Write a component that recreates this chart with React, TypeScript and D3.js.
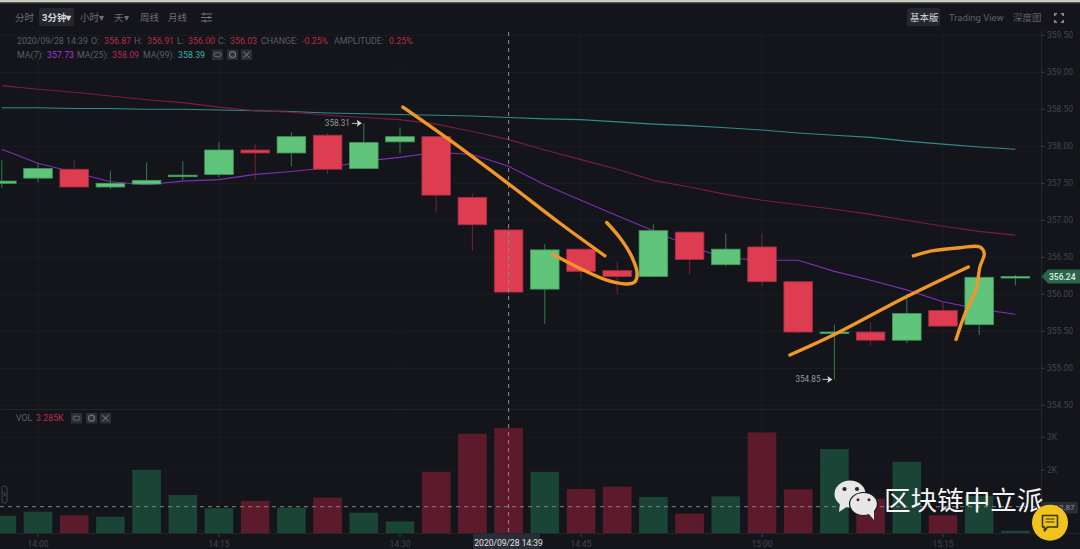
import React from "react";
import * as d3 from "d3";

const opens = [357.50, 357.57, 357.69, 357.45, 357.49, 357.59, 357.62, 357.95, 357.91, 358.15, 357.70, 358.06, 358.13, 357.31, 356.87, 356.07, 356.61, 356.32, 356.24, 356.84, 356.40, 356.64, 356.17, 355.47, 355.49, 355.38, 355.78, 355.59, 356.22];
const highs = [357.81, 357.77, 357.81, 357.67, 357.78, 357.80, 358.06, 358.03, 358.19, 358.18, 358.31, 358.25, 358.14, 357.36, 356.91, 356.68, 356.62, 356.44, 356.95, 356.85, 356.82, 356.82, 356.17, 355.59, 355.62, 356.00, 355.91, 356.24, 356.26];
const lows = [357.44, 357.51, 357.45, 357.42, 357.49, 357.54, 357.58, 357.55, 357.73, 357.63, 357.70, 357.91, 357.10, 356.59, 356.00, 355.60, 356.21, 356.00, 356.23, 356.27, 356.38, 356.11, 355.47, 354.85, 355.31, 355.34, 355.56, 355.45, 356.12];
const closes = [357.53, 357.70, 357.45, 357.50, 357.54, 357.61, 357.95, 357.91, 358.13, 357.69, 358.05, 358.13, 357.34, 356.94, 356.03, 356.60, 356.31, 356.24, 356.86, 356.47, 356.61, 356.17, 355.49, 355.49, 355.38, 355.74, 355.57, 356.23, 356.24];
const volumes = [0.60, 0.725, 0.615, 0.57, 2.0, 1.235, 0.83, 1.05, 0.85, 1.155, 0.695, 0.43, 1.94, 3.11, 3.285, 1.94, 1.42, 1.49, 1.175, 0.665, 1.195, 3.15, 1.41, 2.64, 1.12, 2.25, 0.615, 1.21, 0.145];
const ma7 = [357.96, 357.77, 357.65, 357.52, 357.48, 357.53, 357.55, 357.62, 357.66, 357.71, 357.80, 357.85, 357.92, 357.89, 357.73, 357.48, 357.27, 357.06, 356.86, 356.65, 356.49, 356.46, 356.46, 356.31, 356.19, 356.06, 355.90, 355.80, 355.73];
const ma25 = [358.82, 358.77, 358.73, 358.68, 358.63, 358.59, 358.53, 358.48, 358.46, 358.42, 358.39, 358.36, 358.30, 358.20, 358.09, 357.95, 357.82, 357.69, 357.54, 357.45, 357.35, 357.27, 357.21, 357.15, 357.08, 357.00, 356.92, 356.85, 356.80];
const ma99 = [358.52, 358.52, 358.51, 358.51, 358.50, 358.50, 358.49, 358.48, 358.47, 358.45, 358.44, 358.43, 358.42, 358.41, 358.39, 358.37, 358.36, 358.33, 358.30, 358.28, 358.25, 358.22, 358.18, 358.15, 358.12, 358.07, 358.03, 357.99, 357.96];

const priceTicks = [359.5, 359, 358.5, 358, 357.5, 357, 356.5, 356, 355.5, 355, 354.5];
const volTicks = [3, 2];
const timeTickIdx = [1, 6, 11, 16, 21, 26];
const timeTickLabels = ["14:00", "14:15", "14:30", "14:45", "15:00", "15:15"];
const volAvg = 0.878;
const hoverIdx = 14;
const lastPrice = 356.24;

// hand drawn orange strokes: [candle index, price]
const strokeDown: [number, number][] = [[11.08, 358.53], [12.33, 358.10], [13.98, 357.50], [15.42, 356.96], [16.66, 356.52]];
const strokeHook: [number, number][] = [[15.22, 356.54], [15.97, 356.35], [16.71, 356.19], [17.26, 356.14], [17.49, 356.17], [17.55, 356.28], [17.40, 356.51], [17.08, 356.76], [16.71, 356.97]];
const strokeUp: [number, number][] = [[21.77, 355.18], [22.97, 355.45], [25.0, 355.97], [26.70, 356.37]];
const strokeTurn: [number, number][] = [[26.36, 355.39], [26.61, 355.74], [26.91, 356.06], [27.02, 356.37], [27.14, 356.55], [27.02, 356.64], [26.47, 356.63], [25.73, 356.59], [25.18, 356.52]];

const periodTabs: [string, number, string, number][] = [["分时", 15, "#6c6f76", 400], ["3分钟▾", 42, "#d5d7da", 700], ["小时▾", 80, "#6c6f76", 400], ["天▾", 114, "#6c6f76", 400], ["周线", 140, "#6c6f76", 400], ["月线", 168, "#6c6f76", 400]];
const legend1: [string, number, string][] = [["2020/09/28 14:39", 17, "#5a5d65"], ["O:", 91, "#5a5d65"], ["356.87", 104, "#b92c44"], ["H:", 134, "#5a5d65"], ["356.91", 147, "#b92c44"], ["L:", 177, "#5a5d65"], ["356.00", 188, "#b92c44"], ["C:", 218, "#5a5d65"], ["356.03", 230, "#b92c44"], ["CHANGE:", 261, "#5a5d65"], ["-0.25%", 302, "#b92c44"], ["AMPLITUDE:", 334, "#5a5d65"], ["0.25%", 389, "#b92c44"]];
const legend2: [string, number, string][] = [["MA(7):", 17, "#5a5d65"], ["357.73", 47, "#a435d8"], ["MA(25):", 77, "#5a5d65"], ["358.09", 112, "#b42a55"], ["MA(99):", 143, "#5a5d65"], ["358.39", 178, "#35b3ac"]];

const BG = "#14151a";
const GRID = "#1b1d23";
const AXIS = "#24262d";
const AXIS_TEXT = "#41444c";
const UI_FONT = "Roboto, 'Noto Sans CJK SC', sans-serif";

const x = d3.scaleLinear([0, 28], [1.8, 1015.4]);
const y = d3.scaleLinear([359.5, 354.5], [35.3, 405.3]);
const yVol = d3.scaleLinear([0, 3], [535.4, 437.3]);

const maLine = d3.line<number>().x((d, i) => x(i)).y((d) => y(d));
const strokeLine = d3.line<[number, number]>().x((d) => x(d[0])).y((d) => y(d[1])).curve(d3.curveCatmullRom);

function PaneButtons(props: { xs: number[], top: number }) {
    return <g>
        {props.xs.map((bx, i) => (
            <g key={i}>
                <rect x={bx} y={props.top} width={11} height={10.5} fill="#2c2f37" />
                {i === 0 && <ellipse cx={bx + 5.5} cy={props.top + 5.2} rx={3.6} ry={2.2} fill="none" stroke="#6e727b" strokeWidth={0.9} />}
                {i === 1 && <circle cx={bx + 5.5} cy={props.top + 5.2} r={3} fill="none" stroke="#6e727b" strokeWidth={1.2} />}
                {i === 2 && <path d={`M${bx + 2.5},${props.top + 2.2}L${bx + 8.5},${props.top + 8.2}M${bx + 8.5},${props.top + 2.2}L${bx + 2.5},${props.top + 8.2}`} stroke="#7b7f88" strokeWidth={1} />}
            </g>
        ))}
    </g>;
}

function ExtremeMarker(props: { idx: number, value: number }) {
    const px = x(props.idx);
    const py = y(props.value);
    return <g>
        <text x={px - 39} y={py + 3} fontSize={8.2} fill="#94979d" fontFamily={UI_FONT}>{props.value.toFixed(2)}</text>
        <path d={`M${px - 12},${py}H${px - 4}`} stroke="#c9cbcf" strokeWidth={0.9} />
        <path d={`M${px - 7},${py - 3.5}L${px - 2},${py}L${px - 7},${py + 3.5}L${px - 6},${py}Z`} fill="#d5d7da" />
    </g>;
}

export default function App() {
    const barW = 28.6;
    return <svg width={1080} height={549} viewBox="0 0 1080 549" style={{ position: "absolute", left: 0, top: 0, display: "block" }}>
        <rect x={0} y={0} width={1080} height={549} fill={BG} />
        <rect x={0} y={0} width={1080} height={2.5} fill="#c9cdb9" />
        <rect x={0} y={2.5} width={1080} height={1} fill="#3a3c40" />

        {/* Grid */}
        <g stroke={GRID}>
            {priceTicks.map((t) => <line key={t} x1={0} x2={1041} y1={y(t)} y2={y(t)} />)}
            {volTicks.map((t) => <line key={t} x1={0} x2={1041} y1={yVol(t)} y2={yVol(t)} />)}
            {timeTickIdx.map((t) => <line key={t} x1={x(t)} x2={x(t)} y1={30} y2={533} />)}
        </g>
        <line x1={0} x2={1041} y1={409.5} y2={409.5} stroke={AXIS} />
        <line x1={0} x2={1080} y1={533.5} y2={533.5} stroke={AXIS} />
        <line x1={1041.5} x2={1041.5} y1={30} y2={533} stroke={AXIS} />

        {/* Volume */}
        {volumes.map((v, i) => (
            <rect key={i} x={x(i) - barW / 2} y={yVol(v)} width={barW} height={533 - yVol(v)}
                fill={closes[i] >= opens[i] ? "#1a4435" : "#5d1a2b"} />
        ))}
        <line x1={0} x2={1041} y1={yVol(volAvg)} y2={yVol(volAvg)} stroke="#7f8388" strokeDasharray="4 4" />

        {/* Moving averages sit under the candles */}
        <path d={maLine(ma99)!} fill="none" stroke="#2e8c8c" strokeWidth={1.1} />
        <path d={maLine(ma25)!} fill="none" stroke="#7a1c42" strokeWidth={1.1} />
        <path d={maLine(ma7)!} fill="none" stroke="#7c2fb8" strokeWidth={1.1} />

        {/* Candles */}
        {closes.map((c, i) => {
            const up = c >= opens[i];
            const top = y(Math.max(c, opens[i]));
            const bottom = y(Math.min(c, opens[i]));
            return <g key={i}>
                <line x1={x(i)} x2={x(i)} y1={y(highs[i])} y2={y(lows[i])} stroke={up ? "#2f7d4e" : "#7a1f39"} strokeWidth={1} />
                <rect x={x(i) - barW / 2} y={top} width={barW} height={Math.max(bottom - top, 1.5)}
                    fill={up ? "#60c57a" : "#de3c50"} stroke={up ? "#3f9a5c" : "#a62c42"} strokeWidth={0.8} />
            </g>;
        })}

        <ExtremeMarker idx={10} value={highs[10]} />
        <ExtremeMarker idx={23} value={lows[23]} />

        {/* Crosshair */}
        <line x1={x(hoverIdx)} x2={x(hoverIdx)} y1={32} y2={533} stroke="#8b8e95" strokeDasharray="4 4" />

        {/* Orange annotations */}
        <g fill="none" stroke="#f0972a" strokeWidth={3.4} strokeLinecap="round" strokeLinejoin="round">
            <path d={strokeLine(strokeDown)!} />
            <path d={strokeLine(strokeHook)!} />
            <path d={strokeLine(strokeUp)!} />
            <path d={strokeLine(strokeTurn)!} />
        </g>

        {/* Axis labels */}
        <g fontFamily={UI_FONT} fontSize={8.5} fill={AXIS_TEXT}>
            {priceTicks.map((t) => (
                <g key={t}>
                    <line x1={1041.5} x2={1044.5} y1={y(t)} y2={y(t)} stroke="#3c3f47" />
                    <text x={1047} y={y(t) + 3}>{t.toFixed(2)}</text>
                </g>
            ))}
            {volTicks.map((t) => (
                <g key={t}>
                    <line x1={1041.5} x2={1044.5} y1={yVol(t)} y2={yVol(t)} stroke="#3c3f47" />
                    <text x={1047} y={yVol(t) + 3}>{t}K</text>
                </g>
            ))}
            {timeTickIdx.map((t, i) => (
                <g key={t}>
                    <line x1={x(t)} x2={x(t)} y1={534} y2={537} stroke="#3c3f47" />
                    <text x={x(t)} y={547} textAnchor="middle">{timeTickLabels[i]}</text>
                </g>
            ))}
        </g>
        <rect x={473} y={534} width={67} height={15} fill="#2a2d35" />
        <text x={x(hoverIdx)} y={546} textAnchor="middle" fontFamily={UI_FONT} fontSize={8.5} fill="#e3e4e6">2020/09/28 14:39</text>

        {/* Last price tag */}
        <path d={`M1041.5,${y(lastPrice)}L1048,${y(lastPrice) - 7}H1080V${y(lastPrice) + 7}H1048Z`} fill="#2b6549" />
        <text x={1049} y={y(lastPrice) + 3.2} fontFamily={UI_FONT} fontSize={8.5} fontWeight={500} fill="#dfeee5">{lastPrice.toFixed(2)}</text>

        <rect x={1041} y={502} width={37} height={11.5} rx={1} fill="#2a2d35" />
        <text x={1050} y={510} fontFamily={UI_FONT} fontSize={8} fill="#8d9097">912.87</text>

        {/* Toolbar */}
        <rect x={39} y={8} width={35} height={18} rx={1.5} fill="#24272e" />
        <g fontFamily={UI_FONT} fontSize={9.5}>
            {periodTabs.map(([label, tx, color, weight]) => <text key={label} x={tx} y={20.5} fill={color} fontWeight={weight}>{label}</text>)}
        </g>
        <path d="M201,14H212M201,17.5H212M201,21H212" stroke="#73767d" strokeWidth={1} />
        <path d="M204,12.5V15.5M209,16V19M205,19.5V22.5" stroke="#73767d" strokeWidth={1} />
        <rect x={907} y={8} width={33} height={18} rx={1.5} fill="#24272e" />
        <g fontFamily={UI_FONT} fontSize={9.5}>
            <text x={910} y={20.5} fill="#d5d7da">基本版</text>
            <text x={949} y={20.5} fill="#5f6269">Trading View</text>
            <text x={1013} y={20.5} fill="#5f6269">深度图</text>
        </g>
        <path d="M1054,13h3v1.5h-1.5V16h-1.5ZM1064,13h-3v1.5h1.5V16h1.5ZM1054,23h3v-1.5h-1.5V20h-1.5ZM1064,23h-3v-1.5h1.5V20h1.5Z" fill="#8b8e95" />

        {/* Legends */}
        <g fontFamily={UI_FONT} fontSize={8.8}>
            {legend1.map(([label, tx, color]) => <text key={label} x={tx} y={44.3} fill={color}>{label}</text>)}
            {legend2.map(([label, tx, color]) => <text key={label} x={tx} y={57.8} fill={color}>{label}</text>)}
            <text x={16} y={421.3} fill="#5a5d65">VOL</text>
            <text x={36} y={421.3} fill="#b92c44">3.285K</text>
        </g>
        <PaneButtons xs={[212, 227, 241]} top={49.5} />
        <PaneButtons xs={[71, 86, 100]} top={413} />

        {/* Collapse handle */}
        <rect x={2} y={486} width={5} height={17} rx={2} fill={BG} stroke="#3f424a" />
        <path d="M3.5,492.5L5.5,494.5L3.5,496.5" fill="none" stroke="#6e727b" strokeWidth={0.8} />

        {/* Watermark */}
        <ellipse cx={850} cy={494} rx={15.5} ry={13.5} fill="#e6e7e6" />
        <path d="M840,503L839,512L848,506Z" fill="#e6e7e6" />
        <circle cx={844.5} cy={489} r={2.1} fill="#1e2a28" />
        <circle cx={857} cy={489} r={2.1} fill="#1e2a28" />
        <ellipse cx={863.5} cy={504} rx={14} ry={11.5} fill="#e6e7e6" stroke="#14151a" strokeWidth={1.2} />
        <path d="M868,513L874,520L874,510Z" fill="#e6e7e6" />
        <circle cx={858} cy={499.7} r={1.5} fill="#5d1a2b" />
        <circle cx={869} cy={499.7} r={1.5} fill="#5d1a2b" />
        <text x={884} y={510} fontFamily="'Noto Sans CJK SC', sans-serif" fontSize={26.6} fill="#f4f4f4">区块链中立派</text>

        {/* Chat button */}
        <circle cx={1050} cy={522.7} r={18} fill="#f0c31f" />
        <path d="M1042.5,515.5H1057.5V527H1047.5L1044.5,531V527H1042.5Z" fill="none" stroke="#3a3212" strokeWidth={1.6} strokeLinejoin="round" />
        <path d="M1045.5,519H1054.5M1045.5,522H1054.5" stroke="#3a3212" strokeWidth={1.2} />
    </svg>;
}
